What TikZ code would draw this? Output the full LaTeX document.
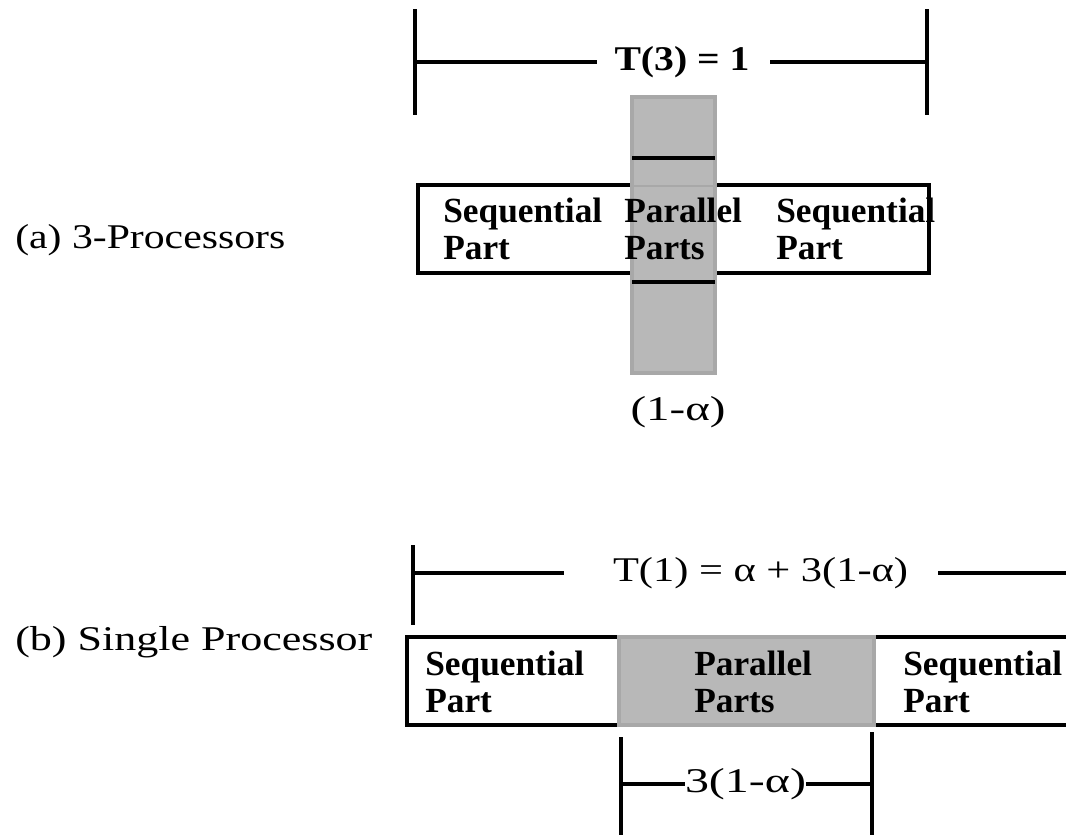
\documentclass[tikz,border=0pt]{standalone}
\usepackage{fontspec}
\usepackage{graphicx}
\setmainfont{Liberation Serif}
\definecolor{pgray}{HTML}{B8B8B8}
\definecolor{pborder}{HTML}{A8A8A8}
\newcommand\fitwidth[2]{\resizebox{#1}{\height}{#2}}
\begin{document}
\begin{tikzpicture}[x=0.75pt,y=-0.75pt,
  blk/.style={line width=2.6pt},
  thinblk/.style={line width=2.3pt},
  graybox/.style={fill=pgray,draw=pborder,line width=2.4pt},
  lbl/.style={inner sep=0pt,font=\fontsize{26}{27.75}\selectfont},
  bl/.style={inner sep=0pt,font=\fontsize{26}{27.75}\selectfont\bfseries},
  boxtxt/.style={inner sep=0pt,align=left,anchor=west,font=\fontsize{26.5}{27.75}\selectfont\bfseries}]
\useasboundingbox[fill=white] (0,0) rectangle (1066,835);

% ---------- (a) 3-Processors ----------
\node[lbl,anchor=west] (la) at (15,240) {\fitwidth{202.5pt}{(a) 3-Processors}};

% dimension T(3)=1
\coordinate (aLt) at (415,9);   \coordinate (aLb) at (415,115);
\coordinate (aRt) at (927,9);   \coordinate (aRb) at (927,115);
\coordinate (aLm) at (415,62);  \coordinate (aLe) at (597,62);
\coordinate (aRs) at (770,62);  \coordinate (aRm) at (927,62);
\node[bl] (ta) at (682,62) {\fitwidth{101.25pt}{T(3) = 1}};
\draw[blk] (aLt) -- (aLb);
\draw[blk] (aRt) -- (aRb);
\draw[blk] (aLm) -- (aLe);
\draw[blk] (aRs) -- (aRm);

% box
\draw[blk] (418,185) rectangle (929,273);
% gray column
\draw[graybox] (632,97) rectangle (715,373);
\draw[pborder,line width=2pt] (633,186) -- (714,186);
\draw[thinblk] (632,158) -- (715,158);
\draw[thinblk] (632,282) -- (715,282);

\node[boxtxt] (sa1) at (443,228.5) {Sequential\\Part};
\node[boxtxt] (pa)  at (624,228.5) {Parallel\\Parts};
\node[boxtxt] (sa2) at (776,228.5) {Sequential\\Part};

\node[lbl] (alpha) at (678,412) {\fitwidth{71.25pt}{(1-α)}};

% ---------- (b) Single Processor ----------
\node[lbl,anchor=west] (lb) at (15,642) {\fitwidth{267.75pt}{(b) Single Processor}};

% dimension T(1)
\coordinate (bLt) at (413,545); \coordinate (bLb) at (413,625);
\coordinate (bLm) at (413,573); \coordinate (bLe) at (564,573);
\coordinate (bRs) at (938,573); \coordinate (bRe) at (1066,573);
\node[lbl] (tb) at (760.5,573) {\fitwidth{221.25pt}{T(1) = α + 3(1-α)}};
\draw[blk] (bLt) -- (bLb);
\draw[blk] (bLm) -- (bLe);
\draw[blk] (bRs) -- (bRe);

% box
\draw[blk] (1066,637) -- (407,637) -- (407,725) -- (1066,725);
\draw[graybox] (619,637) rectangle (874,725);

\node[boxtxt] (sb1) at (425,681.5) {Sequential\\Part};
\node[boxtxt] (pb)  at (694,681.5) {Parallel\\Parts};
\node[boxtxt] (sb2) at (903,681.5) {Sequential\\Part};

% dimension 3(1-alpha)
\coordinate (cLt) at (621,737); \coordinate (cLb) at (621,835);
\coordinate (cRt) at (872,732); \coordinate (cRb) at (872,835);
\coordinate (cLm) at (621,784); \coordinate (cRm) at (872,784);
\node[lbl] (tc) at (745.5,784) {\fitwidth{90.75pt}{3(1-α)}};
\draw[blk] (cLt) -- (cLb);
\draw[blk] (cRt) -- (cRb);
\draw[blk] (cLm) -- (tc.west);
\draw[blk] (tc.east) -- (cRm);
\end{tikzpicture}
\end{document}
